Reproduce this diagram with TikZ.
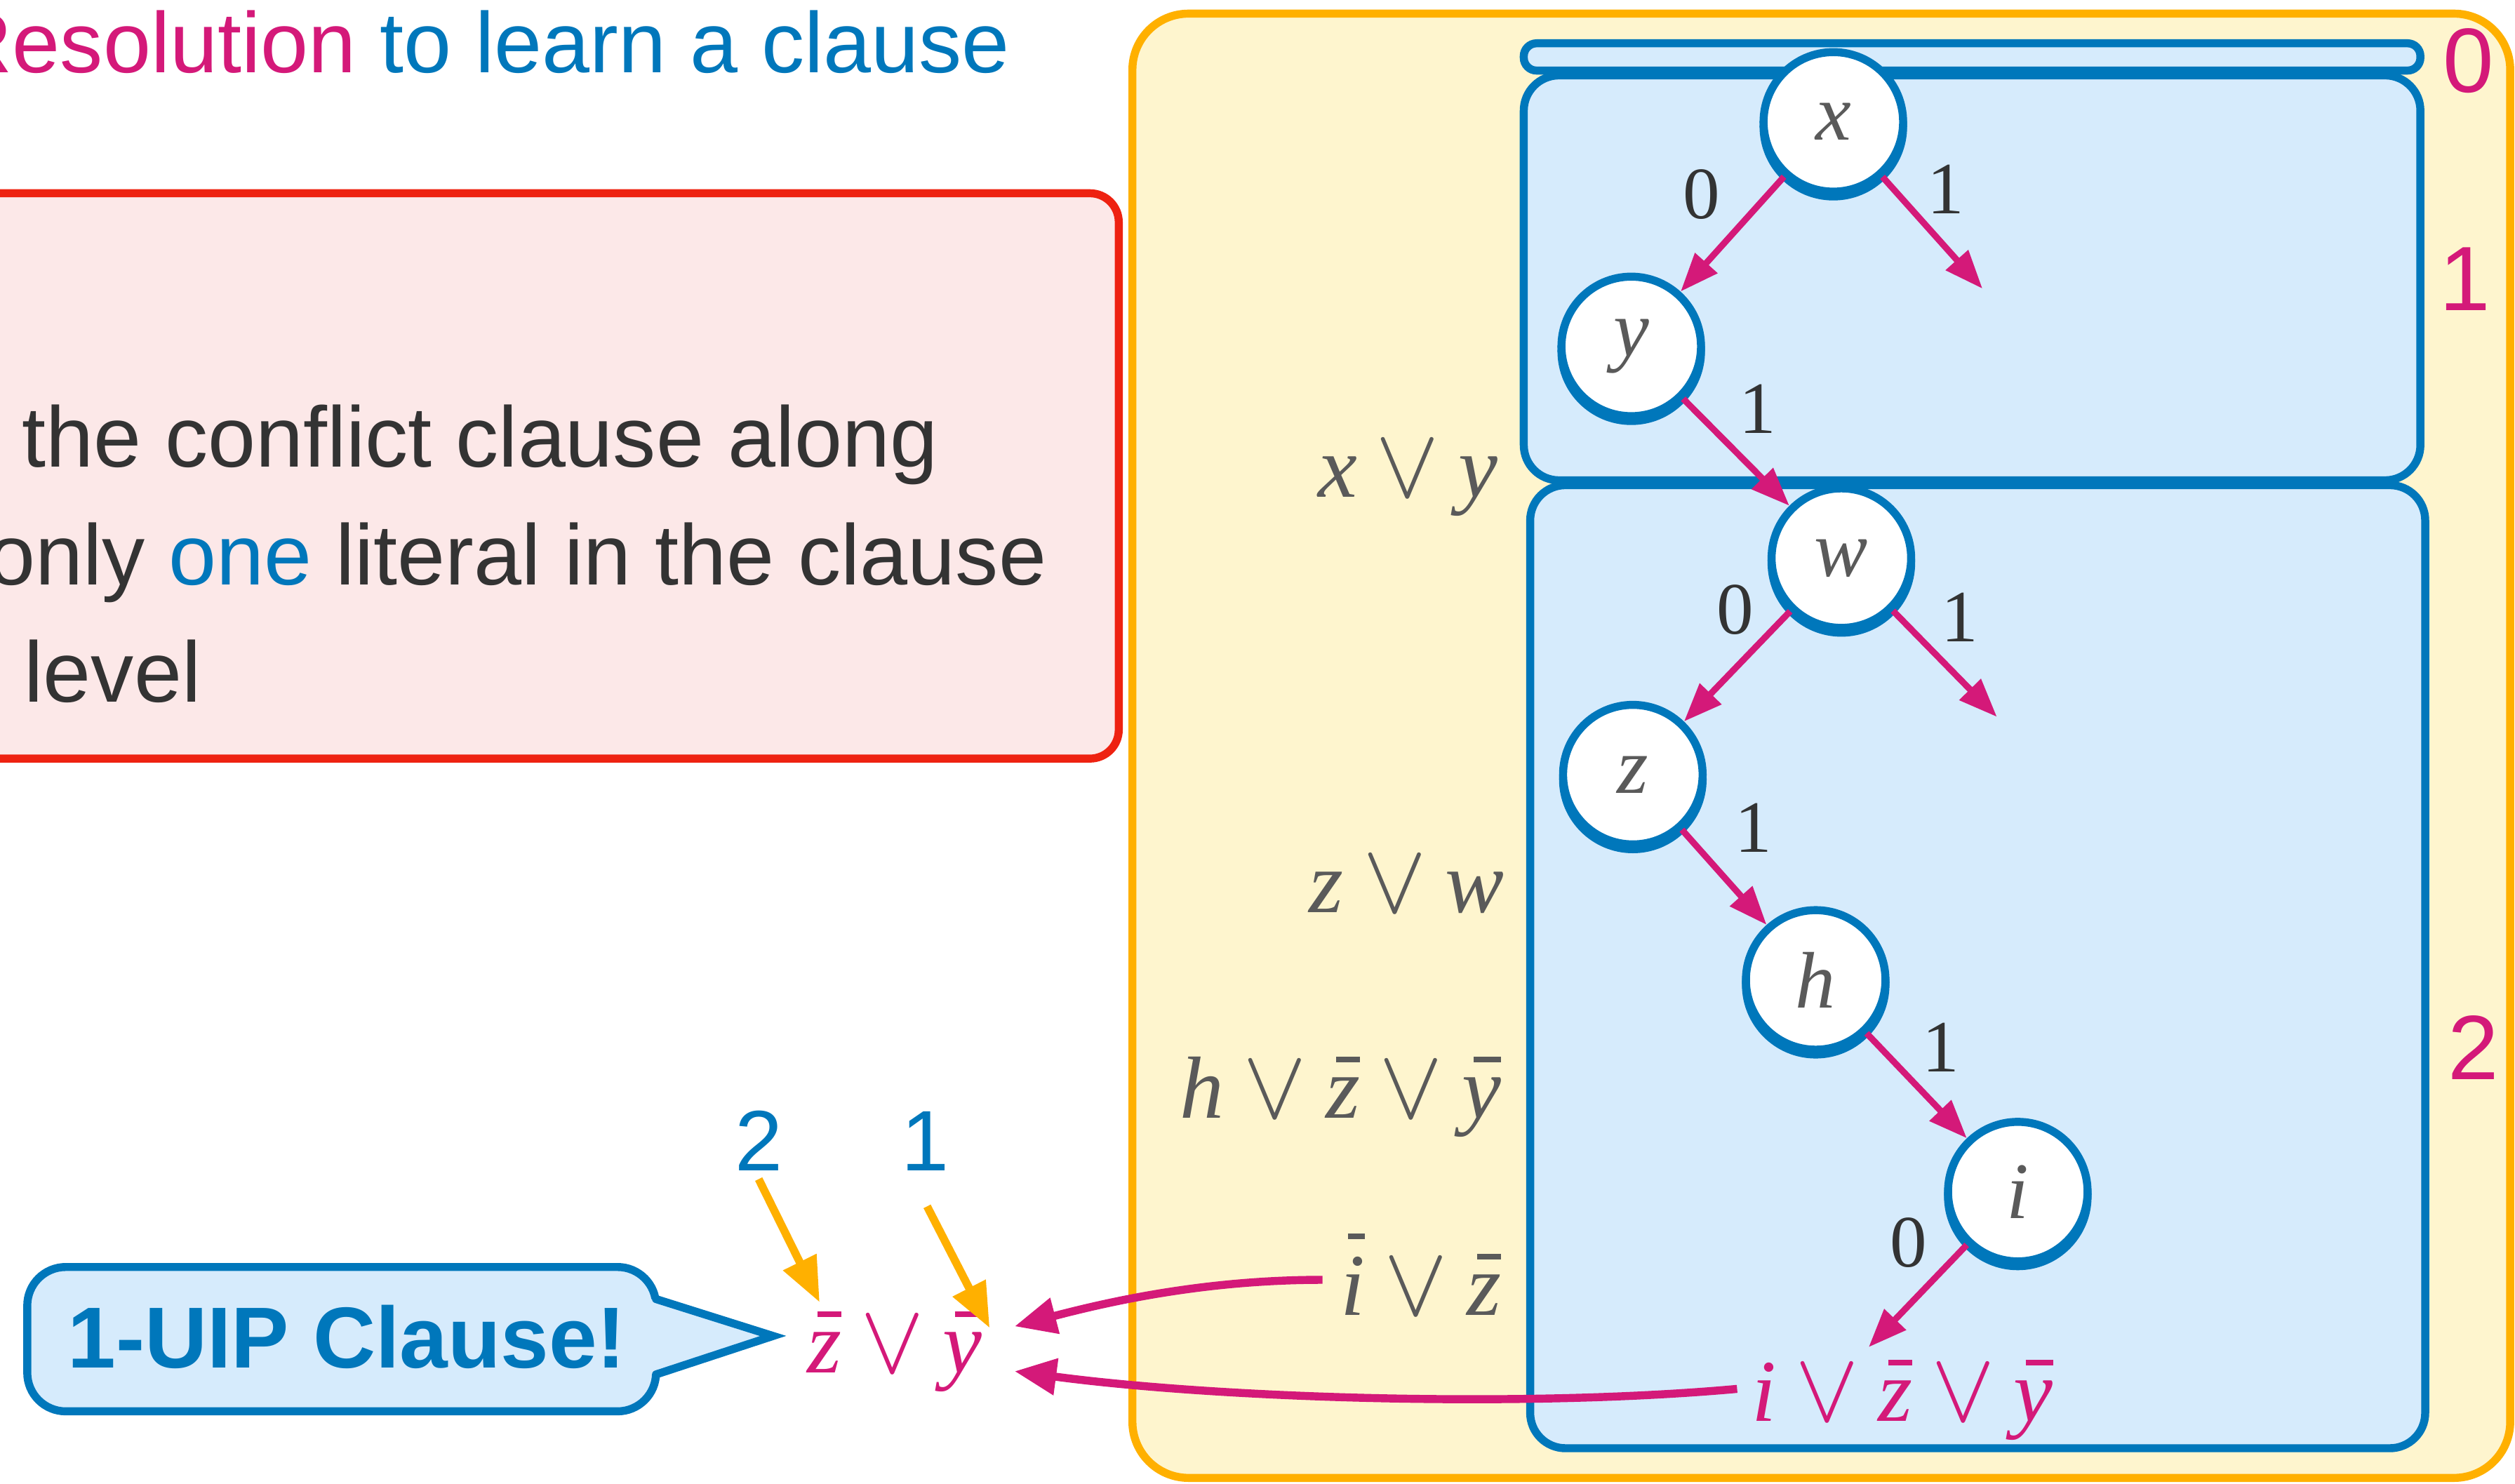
\documentclass[tikz,border=0pt]{standalone}
\usepackage{fontspec}
\setmainfont{Liberation Sans}
\newfontfamily\tmfont{Liberation Serif}
\newfontfamily\lmm{Latin Modern Math}
\usetikzlibrary{arrows.meta}
\definecolor{cblue}{HTML}{0077BB}
\definecolor{cmag}{HTML}{D41979}
\definecolor{corange}{HTML}{FFB000}
\definecolor{cred}{HTML}{EE2211}
\definecolor{pinkfill}{HTML}{FCE8E8}
\definecolor{yfill}{HTML}{FEF5CE}
\definecolor{bfill}{HTML}{D6EBFC}
\definecolor{dgray}{HTML}{333333}
\definecolor{mgray}{HTML}{5A5A5A}
\newcommand\fsz[1]{\fontsize{#1}{#1}\selectfont}
\newcommand\Lt[1]{{\tmfont\itshape #1}}
\newcommand\Lb[2][0.63em]{\setbox0=\hbox{\tmfont\itshape #2}\rlap{\kern0.3\wd0\raisebox{#1}{\rule{0.7\wd0}{3.5pt}}}\box0}
\newcommand\orr{\hspace{11pt}{\lmm\fsz{62}∨}\hspace{11pt}}
\begin{document}
\begin{tikzpicture}[x=1pt, y=-1pt,
  lvl/.style={draw=cblue, fill=bfill, line width=5pt},
  vnode/.style={circle, draw=cblue, line width=5pt, fill=white, minimum size=87pt, inner sep=0pt,
    font=\fsz{50}\tmfont\itshape, text=mgray,
    preaction={draw=cblue, line width=5pt, transform canvas={yshift=-3pt}}},
  elbl/.style={font=\fsz{46}\tmfont, text=dgray, inner sep=0pt},
  marr/.style={draw=cmag, line width=4pt, -{Triangle[length=24pt,width=18pt]}},
  carr/.style={draw=cmag, line width=5pt, -{Triangle[length=26pt,width=22pt]}},
  oarr/.style={draw=corange, line width=5pt, -{Triangle[length=28pt,width=22pt]}},
  clause/.style={font=\fsz{55}, text=mgray, inner sep=0pt},
  lvlnum/.style={font=\fsz{57}, text=cmag, inner sep=0pt},
  sans/.style={font=\fsz{53.5}, inner sep=0pt}
]
\useasboundingbox (0,0) rectangle (1568,925);

% title
\node[sans, anchor=base west] (title) at (-31,45.4) {\textcolor{cmag}{Resolution} \textcolor{cblue}{to learn a clause}};

% red box
\draw[draw=cred, fill=pinkfill, line width=5pt, rounded corners=18pt] (-40,120.5) rectangle (697.5,473);
\node[sans, text=dgray, anchor=base west] (l1) at (13.5,291) {the conflict clause along};
\node[sans, text=dgray, anchor=base west] (l2) at (-8,364.5) {only \textcolor{cblue}{one} literal in the clause};
\node[sans, text=dgray, anchor=base west] (l3) at (15,437.5) {level};

% yellow box
\draw[draw=corange, fill=yfill, line width=5pt, rounded corners=35pt] (706,8.5) rectangle (1565,921.5);

% level boxes
\draw[lvl, rounded corners=8pt] (950,27) rectangle (1509,44);
\draw[lvl, rounded corners=22pt] (950,47) rectangle (1509,299.5);
\draw[lvl, rounded corners=22pt] (954,302.5) rectangle (1512,903);

% level numbers
\node[lvlnum] (lv0) at (1539,38) {0};
\node[lvlnum] (lv1) at (1537,174) {1};
\node[lvlnum] (lv2) at (1542,653) {2};

% decision nodes
\node[vnode] (x) at (1143,76) {x};
\node[vnode] (y) at (1017,216) {y};
\node[vnode] (w) at (1148,348) {w};
\node[vnode] (z) at (1018,483) {z};
\node[vnode] (h) at (1132,611) {h};
\node[vnode] (i) at (1258,743) {i};

\coordinate (xf) at (1236,180);
\coordinate (wf) at (1245,447);
\coordinate (if) at (1165,840);

\draw[marr] (x) -- (y);
\draw[marr] (x) -- (xf);
\draw[marr] (y) -- (w);
\draw[marr] (w) -- (z);
\draw[marr] (w) -- (wf);
\draw[marr] (z) -- (h);
\draw[marr] (h) -- (i);
\draw[marr] (i) -- (if);

% edge labels
\node[elbl] (e1) at (1061,121) {0};
\node[elbl] (e2) at (1213,118) {1};
\node[elbl] (e3) at (1096,255) {1};
\node[elbl] (e4) at (1082,380) {0};
\node[elbl] (e5) at (1222,385) {1};
\node[elbl] (e6) at (1093,516) {1};
\node[elbl] (e7) at (1210,653) {1};
\node[elbl] (e8) at (1190,775) {0};

% clauses
\node[clause, anchor=base east] (c1) at (934,310) {\Lt{x}\orr\Lt{y}};
\node[clause, anchor=base east] (c2) at (938,569) {\Lt{z}\orr\Lt{w}};
\node[clause, anchor=base east] (c3) at (936,697) {\Lt{h}\orr\Lb{z}\orr\Lb{y}};
\node[clause, anchor=base east] (c4) at (936,820) {\Lb[0.86em]{i}\orr\Lb{z}};
\node[clause, text=cmag, anchor=base west] (c5) at (1092,886) {\Lt{i}\orr\Lb{z}\orr\Lb{y}};
\node[clause, text=cmag, anchor=base west] (res) at (503,856) {\Lb{z}\orr\Lb{y}};

% resolution arrows
\draw[carr] ([xshift=-11pt,yshift=22pt]c4.base west) .. controls (750,798) and (690,812) .. ([xshift=20pt,yshift=29pt]res.base east);
\draw[carr] ([xshift=-9pt,yshift=20pt]c5.base west) .. controls (950,878) and (760,872) .. ([xshift=20pt,yshift=1pt]res.base east);

% level indicators
\node[sans, text=cblue, anchor=base] (n2) at (473,730) {2};
\node[sans, text=cblue, anchor=base] (n1) at (577,730) {1};
\coordinate (t2) at (511,812);
\coordinate (t1) at (617,828);
\draw[oarr] ([yshift=-5pt]n2.south) -- (t2);
\draw[oarr] ([xshift=1pt,yshift=-22pt]n1.south) -- (t1);

% callout
\draw[draw=cblue, fill=bfill, line width=5pt, rounded corners=24pt] (17,790) rectangle (409,880);
\fill[bfill] (406,810) -- (482,833) -- (406,857) -- cycle;
\draw[draw=cblue, line width=5pt, line cap=round, line join=miter] (409,810) -- (482,833) -- (409,857);
\node[font=\fsz{54}\bfseries, text=cblue, inner sep=0pt, anchor=base west] (uip) at (42,853) {1-UIP Clause!};
\end{tikzpicture}
\end{document}
